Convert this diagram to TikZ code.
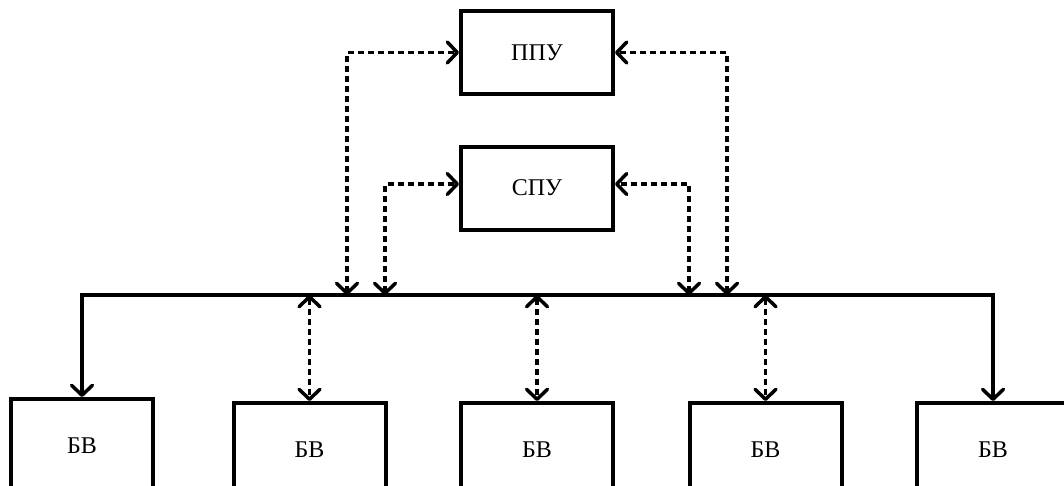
\documentclass[tikz,border=0pt]{standalone}
\usepackage{fontspec}
\setmainfont{Liberation Serif}
\usetikzlibrary{arrows.meta}

\tikzset{
  vtip/.tip={Straight Barb[length=10pt,width=21pt,line width=3.5pt,round]},
  blok/.style={draw, line width=4pt, minimum width=152pt, minimum height=83pt,
    inner sep=0pt, font=\fontsize{24}{28}\selectfont},
  bv/.style={blok, minimum height=100pt},
  bus/.style={line width=3.5pt, vtip-vtip},
  dotlink/.style={line width=3.8pt, dash pattern=on 6pt off 4pt, vtip-vtip}
}

\begin{document}
\begin{tikzpicture}[x=1pt,y=-1pt]
      \useasboundingbox (0,0) rectangle (1064,485);

      \node[blok] (ppu) at (537,52.5) {ППУ};
      \node[blok] (spu) at (537,188) {СПУ};

      \node[bv, minimum width=142pt] (bv1) at (82,449) {\raisebox{7pt}{БВ}};
      \node[bv] (bv2) at (309.5,453) {\raisebox{7pt}{БВ}};
      \node[bv] (bv3) at (537,453) {\raisebox{7pt}{БВ}};
      \node[bv] (bv4) at (765.5,453) {\raisebox{7pt}{БВ}};
      \node[bv] (bv5) at (993,453) {\raisebox{7pt}{БВ}};

      \coordinate (busR) at (993,295);
      \coordinate (p1) at (347,295);
      \coordinate (s1) at (385,295);
      \coordinate (s2) at (689,295);
      \coordinate (p2) at (727,295);

      % bus
      \draw[bus] (bv1.north) |- (busR) -- (bv5.north);

      % control units
      \draw[dotlink] (p1) |- (ppu.west);
      \draw[dotlink] (p2) |- (ppu.east);
      \draw[dotlink] (s1) |- ([yshift=4pt]spu.west);
      \draw[dotlink] (s2) |- ([yshift=4pt]spu.east);

      % bus to blocks
      \draw[dotlink] (bv2.north |- busR) -- (bv2.north);
      \draw[dotlink] (bv3.north |- busR) -- (bv3.north);
      \draw[dotlink] (bv4.north |- busR) -- (bv4.north);
    \end{tikzpicture}
\end{document}
